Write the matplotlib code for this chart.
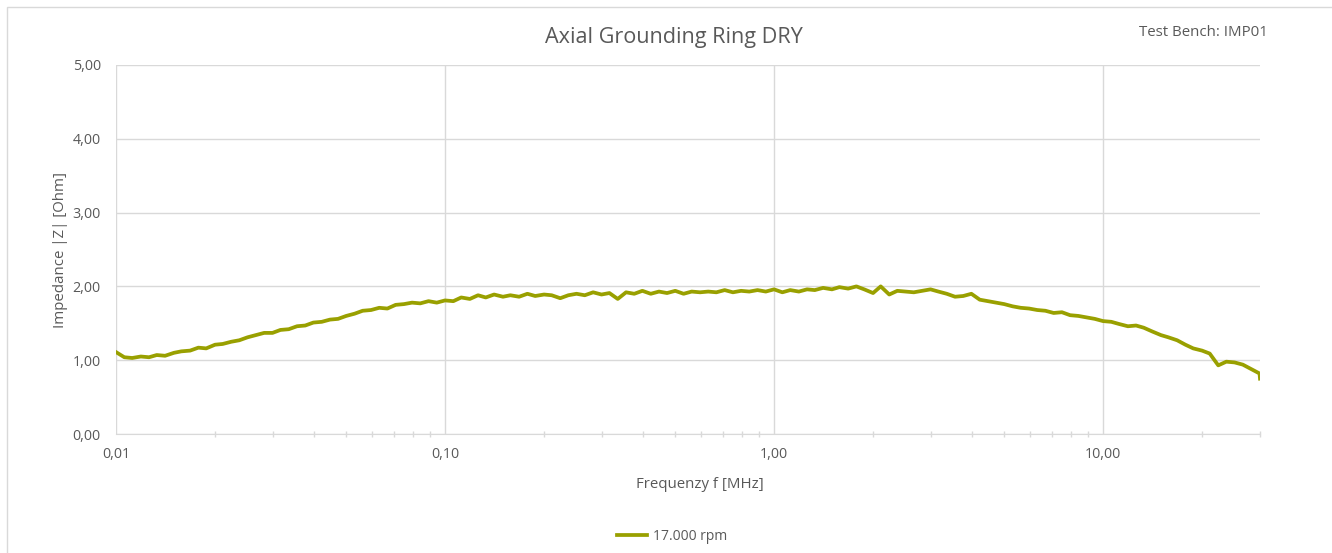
import matplotlib.pyplot as plt
from matplotlib.patches import Rectangle
from matplotlib.ticker import FixedLocator, LogLocator, NullFormatter

# measured sweep, frequency in MHz
freq_mhz = [
    0.0100, 0.0106, 0.0112, 0.0119, 0.0126, 0.0133, 0.0141, 0.0150, 0.0158, 0.0168,
    0.0178, 0.0188, 0.0200, 0.0211, 0.0224, 0.0237, 0.0251, 0.0266, 0.0282, 0.0299,
    0.0316, 0.0335, 0.0355, 0.0376, 0.0398, 0.0422, 0.0447, 0.0473, 0.0501, 0.0531,
    0.0562, 0.0596, 0.0631, 0.0668, 0.0708, 0.0750, 0.0794, 0.0841, 0.0891, 0.0944,
    0.100, 0.106, 0.112, 0.119, 0.126, 0.133, 0.141, 0.150, 0.158, 0.168,
    0.178, 0.188, 0.200, 0.211, 0.224, 0.237, 0.251, 0.266, 0.282, 0.299,
    0.316, 0.335, 0.355, 0.376, 0.398, 0.422, 0.447, 0.473, 0.501, 0.531,
    0.562, 0.596, 0.631, 0.668, 0.708, 0.750, 0.794, 0.841, 0.891, 0.944,
    1.00, 1.06, 1.12, 1.19, 1.26, 1.33, 1.41, 1.50, 1.58, 1.68,
    1.78, 1.88, 2.00, 2.11, 2.24, 2.37, 2.51, 2.66, 2.82, 2.99,
    3.16, 3.35, 3.55, 3.76, 3.98, 4.22, 4.47, 4.73, 5.01, 5.31,
    5.62, 5.96, 6.31, 6.68, 7.08, 7.50, 7.94, 8.41, 8.91, 9.44,
    10.0, 10.6, 11.2, 11.9, 12.6, 13.3, 14.1, 15.0, 15.8, 16.8,
    17.8, 18.8, 20.0, 21.1, 22.4, 23.7, 25.1, 26.6, 28.2, 29.9,
    30.0,
]

impedance_17000 = [
    1.11, 1.04, 1.03, 1.05, 1.04, 1.07, 1.06, 1.10, 1.12, 1.13,
    1.17, 1.16, 1.21, 1.22, 1.25, 1.27, 1.31, 1.34, 1.37, 1.37,
    1.41, 1.42, 1.46, 1.47, 1.51, 1.52, 1.55, 1.56, 1.60, 1.63,
    1.67, 1.68, 1.71, 1.70, 1.75, 1.76, 1.78, 1.77, 1.80, 1.78,
    1.81, 1.80, 1.85, 1.83, 1.88, 1.85, 1.89, 1.86, 1.88, 1.86,
    1.90, 1.87, 1.89, 1.88, 1.84, 1.88, 1.90, 1.88, 1.92, 1.89,
    1.91, 1.83, 1.92, 1.90, 1.94, 1.90, 1.93, 1.91, 1.94, 1.90,
    1.93, 1.92, 1.93, 1.92, 1.95, 1.92, 1.94, 1.93, 1.95, 1.93,
    1.96, 1.92, 1.95, 1.93, 1.96, 1.95, 1.98, 1.96, 1.99, 1.97,
    2.00, 1.96, 1.91, 2.00, 1.89, 1.94, 1.93, 1.92, 1.94, 1.96,
    1.93, 1.90, 1.86, 1.87, 1.90, 1.82, 1.80, 1.78, 1.76, 1.73,
    1.71, 1.70, 1.68, 1.67, 1.64, 1.65, 1.61, 1.60, 1.58, 1.56,
    1.53, 1.52, 1.49, 1.46, 1.47, 1.44, 1.39, 1.34, 1.31, 1.27,
    1.21, 1.16, 1.13, 1.09, 0.93, 0.98, 0.97, 0.94, 0.88, 0.82,
    0.75,
]

x_ticks = [0.01, 0.1, 1, 10]
x_tick_labels = ['0,01', '0,10', '1,00', '10,00']
y_ticks = [0, 1, 2, 3, 4, 5]
y_tick_labels = ['0,00', '1,00', '2,00', '3,00', '4,00', '5,00']

LINE_COLOR = '#99a000'
TEXT_COLOR = '#595959'
GRID_COLOR = '#d9d9d9'

plt.rcParams['font.family'] = ['Open Sans', 'DejaVu Sans']

fig = plt.figure(figsize=(13.32, 5.53), dpi=100)
ax = fig.add_axes([116 / 1332, 1 - 434 / 553, (1260 - 116) / 1332, (434 - 65) / 553])

# outer chart border
fig.patches.append(Rectangle((7 / 1332, -0.01), 1.0, 1 - 7 / 553 + 0.01, transform=fig.transFigure,
                             fill=False, edgecolor=GRID_COLOR, linewidth=1))

ax.plot(freq_mhz, impedance_17000, color=LINE_COLOR, linewidth=2.7, label='17.000 rpm')

ax.set_xscale('log')
ax.set_xlim(0.01, 30)
ax.set_ylim(0, 5)

ax.xaxis.set_major_locator(FixedLocator(x_ticks))
ax.set_xticklabels(x_tick_labels)
ax.xaxis.set_minor_locator(LogLocator(base=10, subs=range(2, 10)))
ax.xaxis.set_minor_formatter(NullFormatter())
ax.set_yticks(y_ticks)
ax.set_yticklabels(y_tick_labels)

ax.grid(True, which='major', color=GRID_COLOR, linewidth=1)
ax.set_axisbelow(True)
for s in ['top', 'right', 'left']:
    ax.spines[s].set_visible(False)
ax.spines['bottom'].set_color(GRID_COLOR)

ax.tick_params(axis='x', which='major', length=0, pad=9, labelsize=10.3, labelcolor=TEXT_COLOR)
ax.tick_params(axis='x', which='minor', direction='inout', length=5, width=1, color=GRID_COLOR)
ax.tick_params(axis='y', length=0, pad=11, labelsize=10.3, labelcolor=TEXT_COLOR)

fig.text(674 / 1332, 1 - 38 / 553, 'Axial Grounding Ring DRY', ha='center', va='center',
         fontsize=15.6, color=TEXT_COLOR)
fig.text(1268 / 1332, 1 - 33 / 553, 'Test Bench: IMP01', ha='right', va='center',
         fontsize=10.8, color=TEXT_COLOR)
fig.text(700 / 1332, 1 - 485 / 553, 'Frequenzy f [MHz]', ha='center', va='center',
         fontsize=10.8, color=TEXT_COLOR)
fig.text(60 / 1332, 1 - 250 / 553, 'Impedance |Z| [Ohm]', ha='center', va='center',
         rotation=90, fontsize=10.8, color=TEXT_COLOR)

leg = fig.legend(loc='center', bbox_to_anchor=(672 / 1332, 1 - 536 / 553), frameon=False,
                 fontsize=10, handlelength=2.2, handletextpad=0.4)
for t in leg.get_texts():
    t.set_color(TEXT_COLOR)

fig.savefig('out.png', dpi=100)
